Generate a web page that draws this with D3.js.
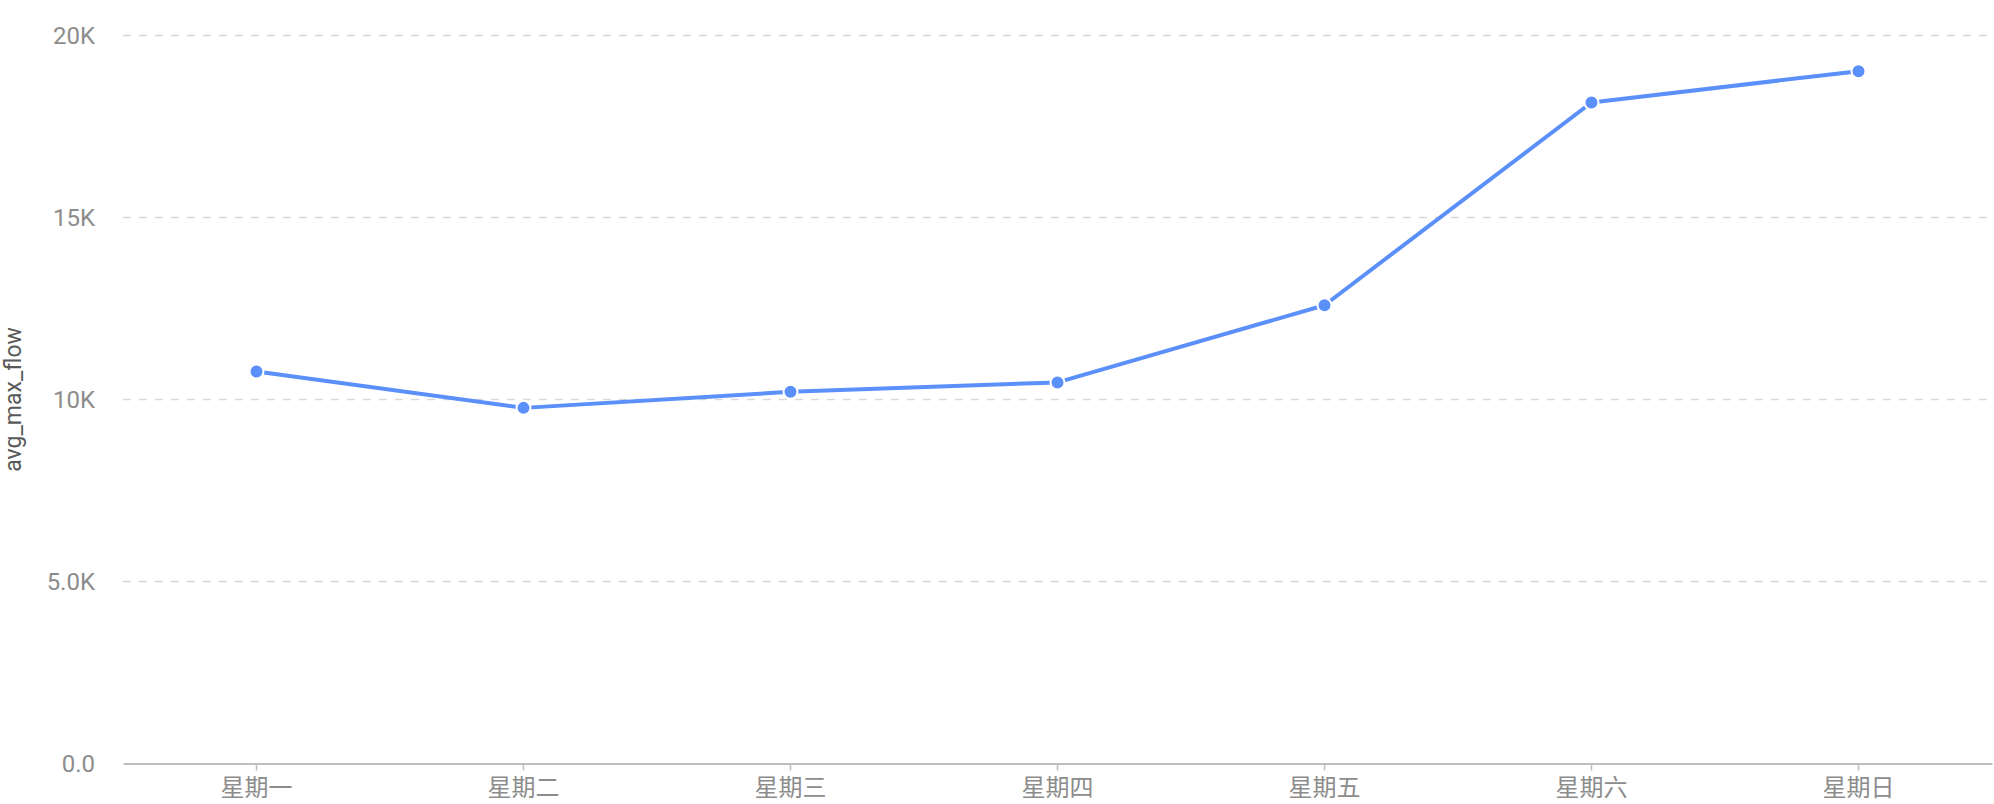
<!DOCTYPE html>
<html>
<head>
<meta charset="utf-8">
<script src="https://cdn.jsdelivr.net/npm/d3@7/dist/d3.min.js"></script>
<style>
  html, body { margin: 0; padding: 0; background: #fff; }
  svg { display: block; }
</style>
</head>
<body>
<svg id="chart" width="1994" height="804"></svg>
<script>
const categories = ["星期一", "星期二", "星期三", "星期四", "星期五", "星期六", "星期日"];
const avgMaxFlow = [10770, 9770, 10210, 10470, 12590, 18160, 19020];
const yTickValues = [0, 5000, 10000, 15000, 20000];
const yTickLabels = ["0.0", "5.0K", "10K", "15K", "20K"];
const yTitle = "avg_max_flow";

const W = 1994, H = 804;
const margin = { left: 123, right: 2, top: 35.5, bottom: 804 - 763.5 };
const svg = d3.select("#chart");
const latin = "Roboto, 'Noto Sans CJK SC', sans-serif";
const cjk = "'Noto Sans CJK SC', Roboto, sans-serif";

const x = d3.scaleBand().domain(categories)
  .range([margin.left, W - margin.right]).padding(0);
const y = d3.scaleLinear().domain([0, 20000])
  .range([H - margin.bottom, margin.top]);

// gridlines
svg.append("g").selectAll("line")
  .data(yTickValues.filter(v => v !== 0))
  .join("line")
  .attr("x1", margin.left).attr("x2", W - margin.right)
  .attr("y1", d => y(d)).attr("y2", d => y(d))
  .attr("stroke", "#d9d9d9").attr("stroke-width", 1.5)
  .attr("stroke-dasharray", "8,8");

// y axis labels
const yAxis = d3.axisLeft(y).tickValues(yTickValues)
  .tickFormat((d, i) => yTickLabels[i]).tickSize(0).tickPadding(0);
const gy = svg.append("g").attr("transform", `translate(95,0)`).call(yAxis);
gy.select(".domain").remove();
gy.selectAll("text")
  .attr("font-family", latin).attr("font-size", 24)
  .attr("fill", "#8c8c8c").attr("dy", "0.35em");

// x axis
const xAxis = d3.axisBottom(x).tickSize(7).tickSizeOuter(0).tickPadding(0);
const gx = svg.append("g").attr("transform", `translate(0,${y(0)})`).call(xAxis);
gx.select(".domain").attr("stroke", "#bfbfbf").attr("stroke-width", 2);
gx.selectAll(".tick line").attr("stroke", "#bfbfbf").attr("stroke-width", 1.5);
gx.selectAll("text")
  .attr("font-family", cjk).attr("font-size", 24)
  .attr("fill", "#8c8c8c").attr("y", 24).attr("dy", "0.36em");

// y title
svg.append("text")
  .attr("transform", `translate(21,${(y(0) + y(20000)) / 2}) rotate(-90)`)
  .attr("text-anchor", "middle")
  .attr("font-family", latin).attr("font-size", 23)
  .attr("fill", "#595959")
  .text(yTitle);

const data = categories.map((c, i) => ({ c, v: avgMaxFlow[i] }));
const cx = d => x(d.c) + x.bandwidth() / 2;

svg.append("path")
  .datum(data)
  .attr("fill", "none")
  .attr("stroke", "#5B8FF9")
  .attr("stroke-width", 4)
  .attr("stroke-linejoin", "round")
  .attr("d", d3.line().x(cx).y(d => y(d.v)));

svg.append("g").selectAll("circle")
  .data(data).join("circle")
  .attr("cx", cx).attr("cy", d => y(d.v))
  .attr("r", 7)
  .attr("fill", "#5B8FF9")
  .attr("stroke", "#fff").attr("stroke-width", 2);
</script>
</body>
</html>
